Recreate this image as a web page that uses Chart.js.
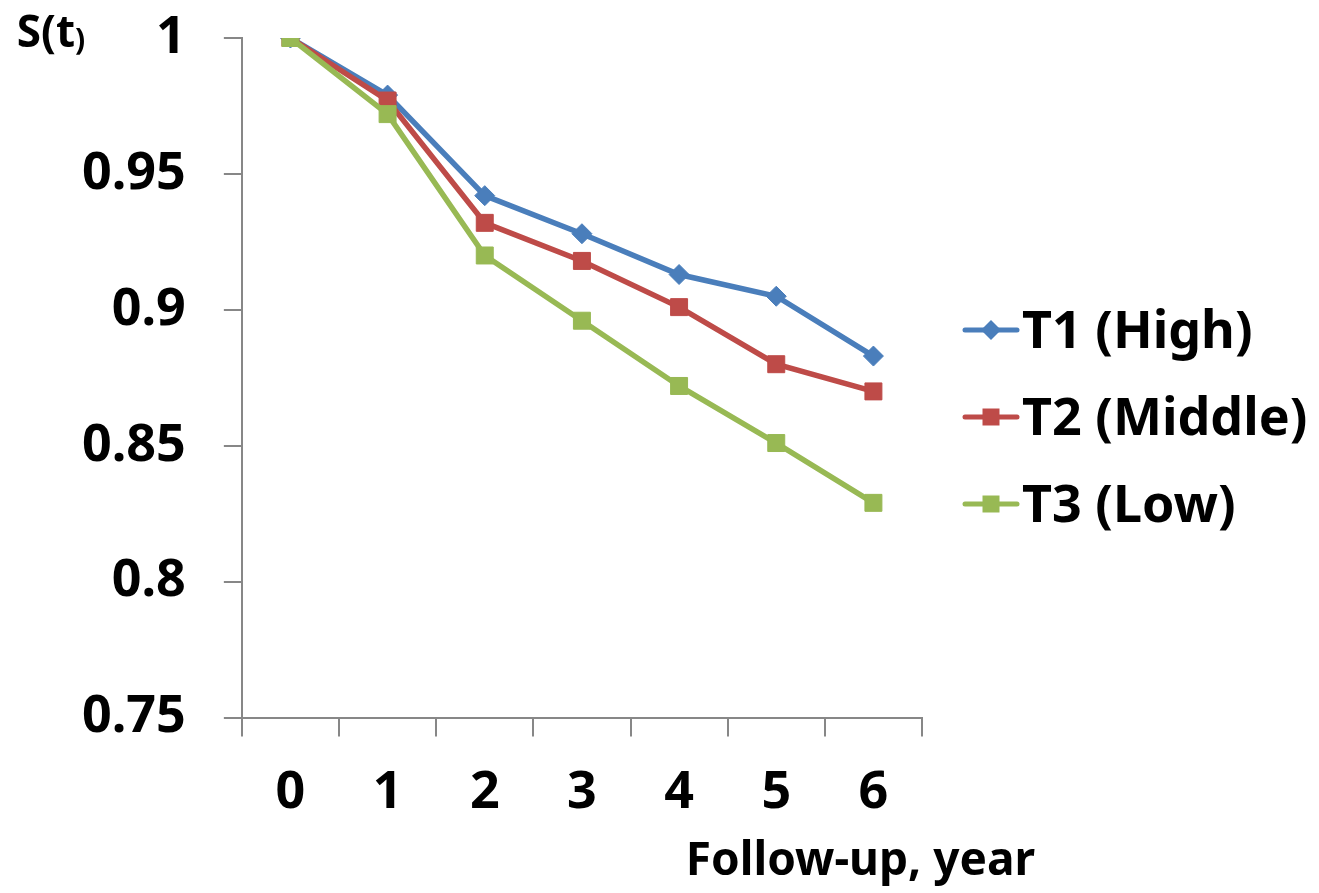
<!DOCTYPE html>
<html>
<head>
<meta charset="utf-8">
<script src="https://cdn.jsdelivr.net/npm/chart.js@4.4.1/dist/chart.umd.min.js"></script>
<style>
  html, body { margin: 0; padding: 0; background: #fff; }
  #wrap { width: 1319px; height: 893px; }
</style>
</head>
<body>
<div id="wrap"><canvas id="survivalChart" width="1319" height="893"></canvas></div>
<script>
// follow-up years and survival estimates per tertile
const years = ['0', '1', '2', '3', '4', '5', '6'];
const t1High = [1, 0.979, 0.942, 0.928, 0.913, 0.905, 0.883];
const t2Middle = [1, 0.977, 0.932, 0.918, 0.901, 0.880, 0.870];
const t3Low = [1, 0.972, 0.920, 0.896, 0.872, 0.851, 0.829];
const seriesNames = ['T1 (High)', 'T2 (Middle)', 'T3 (Low)'];
const yTicks = [0.75, 0.8, 0.85, 0.9, 0.95, 1];

const FONT = '"Noto Sans", "Open Sans", sans-serif';
const AXIS_GREY = '#878787';
const BLUE = '#4A7EBB', RED = '#BE4B48', GREEN = '#98B954';

// small line+marker icons for the legend
function legendIcon(color, marker) {
    const c = document.createElement('canvas');
    c.width = 58; c.height = 24;
    const g = c.getContext('2d');
    g.strokeStyle = color;
    g.fillStyle = color;
    g.lineWidth = 5;
    g.lineCap = 'round';
    g.beginPath();
    g.moveTo(3, 12);
    g.lineTo(55, 12);
    g.stroke();
    g.beginPath();
    if (marker === 'diamond') {
        g.moveTo(29, 2); g.lineTo(39, 12); g.lineTo(29, 22); g.lineTo(19, 12);
        g.closePath();
    } else {
        g.rect(20.5, 3.5, 17, 17);
    }
    g.fill();
    return c;
}
const legendIcons = [legendIcon(BLUE, 'diamond'), legendIcon(RED, 'square'), legendIcon(GREEN, 'square')];

// legend drawn to the right of the plot (the built-in one is capped in width)
const sideLegend = {
    id: 'sideLegend',
    afterDraw(chart) {
        const { ctx, chartArea } = chart;
        ctx.save();
        ctx.font = 'bold 52px ' + FONT;
        ctx.fillStyle = '#000';
        ctx.textAlign = 'left';
        ctx.textBaseline = 'alphabetic';
        chart.data.datasets.forEach((ds, i) => {
            const cy = chartArea.top + 292 + i * 87;
            const icon = legendIcons[i];
            ctx.drawImage(icon, chartArea.right + 40, cy - icon.height / 2);
            ctx.fillText(ds.label, chartArea.right + 100, cy + 18);
        });
        ctx.restore();
    }
};

// "S(t)" above the y axis and the x axis caption
const axisCaptions = {
    id: 'axisCaptions',
    afterDraw(chart) {
        const { ctx, chartArea } = chart;
        ctx.save();
        ctx.fillStyle = '#000';
        ctx.textBaseline = 'alphabetic';
        ctx.textAlign = 'left';
        ctx.font = 'bold 44px ' + FONT;
        const sx = chartArea.left - 225;
        ctx.fillText('S(t', sx, chartArea.top + 9);
        const w = ctx.measureText('S(t').width;
        ctx.font = 'bold 30px ' + FONT;
        ctx.fillText(')', sx + w, chartArea.top + 12);
        ctx.font = 'bold 46px ' + FONT;
        ctx.textAlign = 'right';
        ctx.fillText('Follow-up, year', chartArea.right + 113, chartArea.bottom + 157);
        ctx.restore();
    }
};

const ctx = document.getElementById('survivalChart').getContext('2d');
new Chart(ctx, {
    type: 'line',
    data: {
        labels: years,
        datasets: [
            {
                label: seriesNames[0], data: t1High, order: 2,
                borderColor: BLUE, backgroundColor: BLUE, borderWidth: 5.5,
                pointStyle: 'rectRot', pointRadius: 10, pointBorderWidth: 1,
            },
            {
                label: seriesNames[1], data: t2Middle, order: 1,
                borderColor: RED, backgroundColor: RED, borderWidth: 5.5,
                pointStyle: 'rect', pointRadius: 12, pointBorderWidth: 1,
            },
            {
                label: seriesNames[2], data: t3Low, order: 0,
                borderColor: GREEN, backgroundColor: GREEN, borderWidth: 5.5,
                pointStyle: 'rect', pointRadius: 12, pointBorderWidth: 1,
            },
        ]
    },
    options: {
        responsive: false,
        animation: false,
        layout: { padding: { top: 38, left: 44, right: 397, bottom: 44 } },
        plugins: {
            tooltip: { enabled: false },
            legend: { display: false }
        },
        scales: {
            x: {
                offset: true,
                grid: { offset: true, drawOnChartArea: false, tickLength: 19, color: AXIS_GREY, lineWidth: 2 },
                border: { color: AXIS_GREY, width: 2 },
                ticks: { color: '#000', padding: 25, font: { family: FONT, size: 52, weight: 'bold' } }
            },
            y: {
                min: 0.75,
                max: 1,
                afterBuildTicks(scale) { scale.ticks = yTicks.map(v => ({ value: v })); },
                // the top "1" label is allowed to stick out above the plot
                afterFit(scale) { scale.paddingTop = 0; },
                grid: { drawOnChartArea: false, tickLength: 18, color: AXIS_GREY, lineWidth: 2 },
                border: { color: AXIS_GREY, width: 2 },
                ticks: {
                    color: '#000', padding: 38,
                    font: { family: FONT, size: 52, weight: 'bold' },
                    callback: v => String(v)
                }
            }
        }
    },
    plugins: [sideLegend, axisCaptions]
});
</script>
</body>
</html>
